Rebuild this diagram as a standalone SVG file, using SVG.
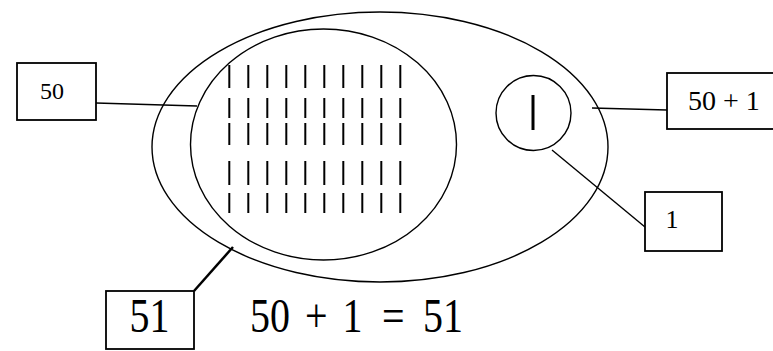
<svg xmlns="http://www.w3.org/2000/svg" width="773" height="351" viewBox="0 0 773 351">
<style>
.sh{fill:none;stroke:#000;stroke-width:1.4}
.bx{fill:#fff;stroke:#000;stroke-width:1.8}
.ln{stroke:#000;stroke-width:1.4;fill:none}
.t{font-family:"Liberation Serif","Times New Roman",serif;fill:#000}
.tal line{stroke:#000;stroke-width:2}
</style>
<rect width="773" height="351" fill="#fff"/>
<g id="outer"><ellipse class="sh" cx="380" cy="147" rx="228" ry="135"/></g>
<g id="inner">
<ellipse class="sh" cx="323.5" cy="144.5" rx="133" ry="115.5"/>
<g class="tal" id="tallies">
<g id="r1"><line x1="229.3" y1="65" x2="229.3" y2="88"/><line x1="248.3" y1="65" x2="248.3" y2="88"/><line x1="267.3" y1="65" x2="267.3" y2="88"/><line x1="286.3" y1="65" x2="286.3" y2="88"/><line x1="305.3" y1="65" x2="305.3" y2="88"/><line x1="324.3" y1="65" x2="324.3" y2="88"/><line x1="343.3" y1="65" x2="343.3" y2="88"/><line x1="362.3" y1="65" x2="362.3" y2="88"/><line x1="381.3" y1="65" x2="381.3" y2="88"/><line x1="400.3" y1="65" x2="400.3" y2="88"/></g>
<g id="r2"><line x1="229.3" y1="98" x2="229.3" y2="118"/><line x1="248.3" y1="98" x2="248.3" y2="118"/><line x1="267.3" y1="98" x2="267.3" y2="118"/><line x1="286.3" y1="98" x2="286.3" y2="118"/><line x1="305.3" y1="98" x2="305.3" y2="118"/><line x1="324.3" y1="98" x2="324.3" y2="118"/><line x1="343.3" y1="98" x2="343.3" y2="118"/><line x1="362.3" y1="98" x2="362.3" y2="118"/><line x1="381.3" y1="98" x2="381.3" y2="118"/><line x1="400.3" y1="98" x2="400.3" y2="118"/></g>
<g id="r3"><line x1="229.3" y1="123" x2="229.3" y2="145"/><line x1="248.3" y1="123" x2="248.3" y2="145"/><line x1="267.3" y1="123" x2="267.3" y2="145"/><line x1="286.3" y1="123" x2="286.3" y2="145"/><line x1="305.3" y1="123" x2="305.3" y2="145"/><line x1="324.3" y1="123" x2="324.3" y2="145"/><line x1="343.3" y1="123" x2="343.3" y2="145"/><line x1="362.3" y1="123" x2="362.3" y2="145"/><line x1="381.3" y1="123" x2="381.3" y2="145"/><line x1="400.3" y1="123" x2="400.3" y2="145"/></g>
<g id="r4"><line x1="229.3" y1="161" x2="229.3" y2="185"/><line x1="248.3" y1="161" x2="248.3" y2="185"/><line x1="267.3" y1="161" x2="267.3" y2="185"/><line x1="286.3" y1="161" x2="286.3" y2="185"/><line x1="305.3" y1="161" x2="305.3" y2="185"/><line x1="324.3" y1="161" x2="324.3" y2="185"/><line x1="343.3" y1="161" x2="343.3" y2="185"/><line x1="362.3" y1="161" x2="362.3" y2="185"/><line x1="381.3" y1="161" x2="381.3" y2="185"/><line x1="400.3" y1="161" x2="400.3" y2="185"/></g>
<g id="r5"><line x1="229.3" y1="193" x2="229.3" y2="213"/><line x1="248.3" y1="193" x2="248.3" y2="213"/><line x1="267.3" y1="193" x2="267.3" y2="213"/><line x1="286.3" y1="193" x2="286.3" y2="213"/><line x1="305.3" y1="193" x2="305.3" y2="213"/><line x1="324.3" y1="193" x2="324.3" y2="213"/><line x1="343.3" y1="193" x2="343.3" y2="213"/><line x1="362.3" y1="193" x2="362.3" y2="213"/><line x1="381.3" y1="193" x2="381.3" y2="213"/><line x1="400.3" y1="193" x2="400.3" y2="213"/></g>
</g>
</g>
<g id="one-circle">
<circle class="sh" cx="533.5" cy="113" r="37.5"/>
<line x1="533" y1="95" x2="533" y2="130" stroke="#000" stroke-width="3"/>
</g>
<g id="connectors">
<line class="ln" x1="96" y1="103" x2="197" y2="106"/>
<line class="ln" x1="592" y1="108" x2="667" y2="110"/>
<line class="ln" x1="552" y1="150" x2="645" y2="227"/>
<line x1="194" y1="291" x2="233" y2="247" stroke="#000" stroke-width="2.5"/>
</g>
<g id="box50">
<rect class="bx" x="17" y="63" width="79" height="57"/>
<text class="t" x="52" y="99" font-size="24" text-anchor="middle">50</text>
</g>
<g id="box50p1">
<rect class="bx" x="667" y="73" width="120" height="56"/>
<text class="t" x="688" y="109.5" font-size="28">50 + 1</text>
</g>
<g id="box1">
<rect class="bx" x="645" y="192" width="77" height="59"/>
<text class="t" x="672" y="228" font-size="26" text-anchor="middle">1</text>
</g>
<g id="box51">
<rect class="bx" x="106" y="291" width="88" height="58"/>
<text class="t" font-size="40" transform="translate(149.5,332) scale(1,1.2)" text-anchor="middle">51</text>
</g>
<g id="equation">
<text class="t" font-size="40" transform="translate(0,332) scale(1,1.2)"><tspan x="250">50</tspan><tspan x="305"> </tspan><tspan x="305">+</tspan><tspan x="343"> </tspan><tspan x="342.5">1</tspan><tspan x="382"> </tspan><tspan x="382">=</tspan><tspan x="423"> </tspan><tspan x="423">51</tspan></text>
</g>
</svg>
